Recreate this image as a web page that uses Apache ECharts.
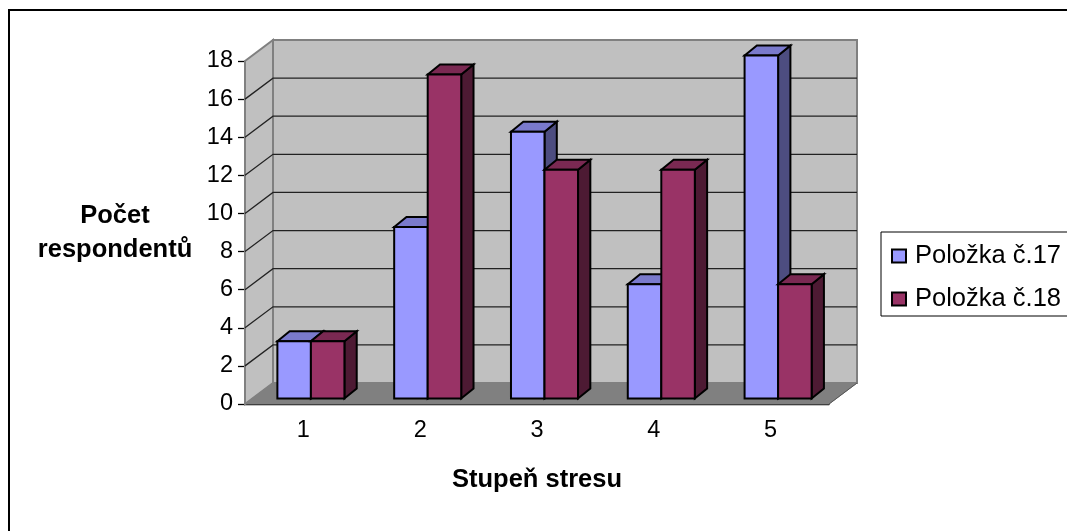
<!DOCTYPE html>
<html>
<head>
<meta charset="utf-8">
<style>html,body{margin:0;padding:0;background:#fff}#chart{width:1067px;height:531px}</style>
<script src="https://cdn.jsdelivr.net/npm/echarts@6/dist/echarts.min.js"></script>
</head>
<body>
<div id="chart"></div>
<script>
var categories = ['1', '2', '3', '4', '5'];
var polozka17 = [3, 9, 14, 6, 18];
var polozka18 = [3, 17, 12, 12, 6];
var gridTicks = [2, 4, 6, 8, 10, 12, 14, 16];

// fake 3D: wall depth, bar depth and how far bars sit behind the front plane
var wallDx = 28, wallDy = 21;
var barDx = 12.3, barDy = 10;
var barShiftX = 7.5, barShiftY = 5.5;
var barRatio = 0.287;

function poly(points, fill, stroke, lineWidth) {
  return {
    type: 'polygon',
    shape: { points: points },
    style: { fill: fill, stroke: stroke, lineWidth: lineWidth, lineJoin: 'miter' }
  };
}

function renderWalls(params) {
  var c = params.coordSys;
  var l = c.x, r = c.x + c.width, t = c.y, b = c.y + c.height;
  return {
    type: 'group',
    children: [
      poly([[l, t], [l + wallDx, t - wallDy], [l + wallDx, b - wallDy], [l, b]], '#c0c0c0', '#808080', 2),
      poly([[l + wallDx, t - wallDy], [r + wallDx, t - wallDy], [r + wallDx, b - wallDy], [l + wallDx, b - wallDy]], '#c0c0c0', '#808080', 2),
      poly([[l, b], [r, b], [r + wallDx, b - wallDy], [l + wallDx, b - wallDy]], '#808080', '#808080', 1),
      {
        type: 'line',
        shape: { x1: r, y1: b, x2: r + wallDx, y2: b - wallDy },
        style: { stroke: '#555', lineWidth: 1 }
      }
    ]
  };
}

function renderGrid(params, api) {
  var c = params.coordSys;
  var y = api.coord([0, api.value(0)])[1];
  return {
    type: 'polyline',
    shape: { points: [[c.x, y], [c.x + wallDx, y - wallDy], [c.x + c.width + wallDx, y - wallDy]] },
    style: { stroke: '#222', lineWidth: 1.3, fill: null }
  };
}

function barRenderer(side, front, top, dark) {
  return function (params, api) {
    var pt = api.coord([api.value(0), api.value(1)]);
    var base = api.coord([api.value(0), 0]);
    var w = api.size([1, 0])[0] * barRatio;
    var x0 = pt[0] + barShiftX + (side < 0 ? -w : 0);
    var x1 = x0 + w;
    var y0 = pt[1] - barShiftY;
    var y1 = base[1] - barShiftY;
    return {
      type: 'group',
      children: [
        poly([[x1, y0], [x1 + barDx, y0 - barDy], [x1 + barDx, y1 - barDy], [x1, y1]], dark, '#000', 2),
        poly([[x0, y0], [x0 + barDx, y0 - barDy], [x1 + barDx, y0 - barDy], [x1, y0]], top, '#000', 2),
        poly([[x0, y0], [x1, y0], [x1, y1], [x0, y1]], front, '#000', 2)
      ]
    };
  };
}

function pairs(values) {
  var out = [];
  for (var i = 0; i < values.length; i++) {
    out.push([i, values[i]]);
  }
  return out;
}

var myChart = echarts.init(document.getElementById('chart'));
var font = '"Liberation Sans", Arial, sans-serif';

var option = {
  animation: false,
  backgroundColor: '#fff',
  textStyle: { fontFamily: font },
  graphic: [{
    type: 'rect',
    shape: { x: 9, y: 10, width: 1200, height: 700 },
    style: { fill: null, stroke: '#000', lineWidth: 2 },
    z: 100
  }],
  grid: { left: 245, top: 61, width: 584, height: 343 },
  legend: {
    left: 881,
    top: 232,
    orient: 'vertical',
    padding: [11, 30, 4, 10],
    itemGap: 17,
    itemWidth: 14,
    itemHeight: 13,
    icon: 'rect',
    borderColor: '#000',
    borderWidth: 1,
    backgroundColor: '#fff',
    data: ['Položka č.17', 'Položka č.18'],
    textStyle: { fontFamily: font, fontSize: 25.5, color: '#000', padding: [0, 0, 0, 4] },
    itemStyle: { borderColor: '#000', borderWidth: 2 }
  },
  xAxis: {
    type: 'category',
    data: categories,
    name: 'Stupeň stresu',
    nameLocation: 'middle',
    nameGap: 63,
    nameTextStyle: { fontFamily: font, fontSize: 25.5, fontWeight: 'bold', color: '#000' },
    axisLine: { lineStyle: { color: '#000', width: 1.3 } },
    axisTick: { alignWithLabel: false, length: 6, lineStyle: { color: '#000', width: 1.3 } },
    axisLabel: { fontFamily: font, fontSize: 23.5, color: '#000', margin: 15 }
  },
  yAxis: {
    type: 'value',
    min: 0,
    max: 18,
    interval: 2,
    name: 'Počet\nrespondentů',
    nameLocation: 'middle',
    nameRotate: 0,
    nameGap: 130,
    nameTextStyle: { fontFamily: font, fontSize: 25.5, fontWeight: 'bold', color: '#000', lineHeight: 34, align: 'center', verticalAlign: 'middle' },
    splitLine: { show: false },
    axisLine: { show: true, lineStyle: { color: '#000', width: 1.3 } },
    axisTick: { show: true, length: 7, lineStyle: { color: '#000', width: 1.3 } },
    axisLabel: { fontFamily: font, fontSize: 23.5, color: '#000', margin: 12 }
  },
  series: [
    { type: 'custom', name: 'walls', coordinateSystem: 'cartesian2d', clip: false, silent: true, data: [[0, 0]], renderItem: renderWalls, z: 1 },
    { type: 'custom', name: 'grid', coordinateSystem: 'cartesian2d', clip: false, silent: true, data: gridTicks.map(function (v) { return [v]; }), encode: { y: 0 }, renderItem: renderGrid, z: 2 },
    { type: 'custom', name: 'Položka č.17', coordinateSystem: 'cartesian2d', clip: false, data: pairs(polozka17), itemStyle: { color: '#9999ff' }, renderItem: barRenderer(-1, '#9999ff', '#7a7acc', '#4d4d80'), z: 3 },
    { type: 'custom', name: 'Položka č.18', coordinateSystem: 'cartesian2d', clip: false, data: pairs(polozka18), itemStyle: { color: '#993366' }, renderItem: barRenderer(1, '#993366', '#7a2952', '#4d1a33'), z: 4 }
  ]
};
myChart.setOption(option);
</script>
</body>
</html>
